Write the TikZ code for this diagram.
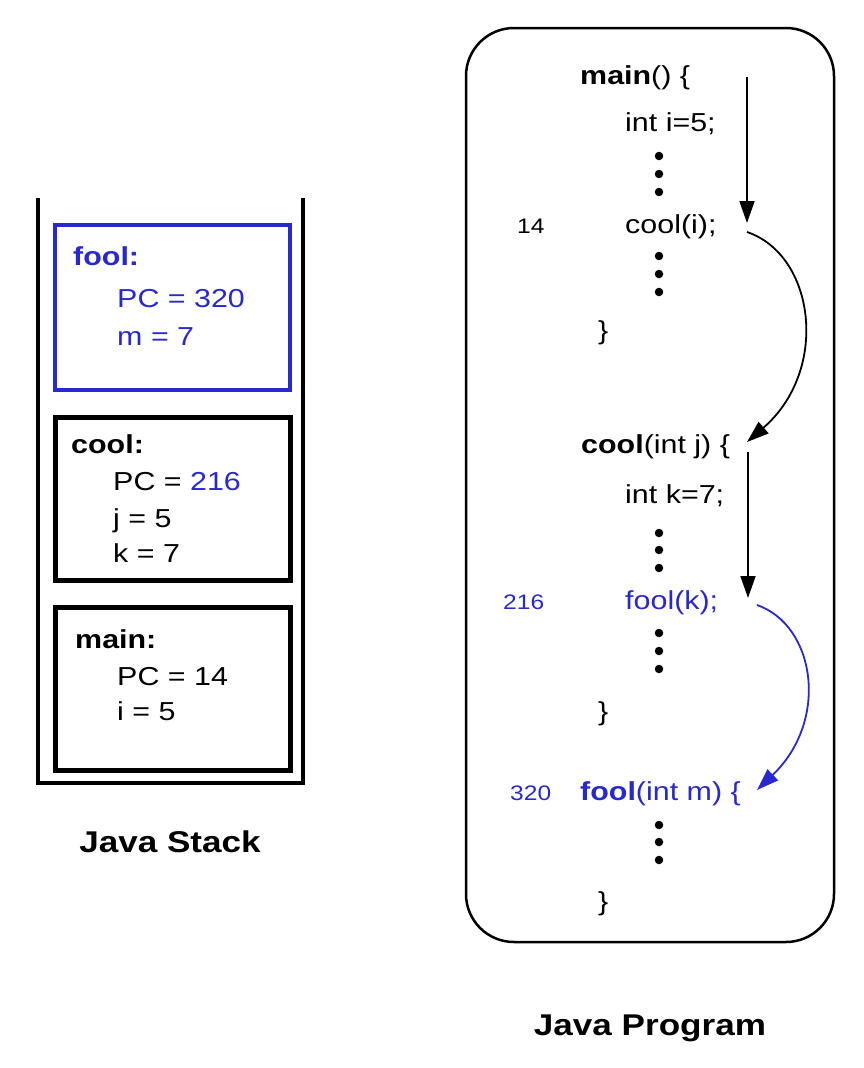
\documentclass[tikz,border=0pt]{standalone}
\usepackage{fontspec}
\setmainfont{Liberation Sans}
\usetikzlibrary{arrows.meta}
\definecolor{mblue}{RGB}{40,40,210}
\begin{document}
\begin{tikzpicture}[x=1pt,y=-1pt,
  txt/.style={anchor=base west,inner sep=0pt,xscale=1.17,font=\fontsize{26}{30}\selectfont},
  num/.style={anchor=base west,inner sep=0pt,xscale=1.17,font=\fontsize{21}{25}\selectfont},
  ttl/.style={anchor=base,inner sep=0pt,xscale=1.17,font=\fontsize{30}{36}\selectfont\bfseries},
  frame/.style={line width=4.5pt},
  flow/.style={line width=1.8pt,-{Triangle[length=22pt,width=15pt]}},
  dot/.style={circle,fill,inner sep=0pt,minimum size=8.5pt}]
\useasboundingbox (0,0) rectangle (864,1068);
% ---------- Java stack ----------
\draw[line width=4.5pt,line join=miter] (38,198) -- (38,783) -- (303,783) -- (303,198);
\node[draw=mblue,line width=4pt,minimum width=235pt,minimum height=165pt,anchor=north west] (foolbox) at (53,223) {};
\node[draw,line width=4.5pt,minimum width=235pt,minimum height=163pt,anchor=north west] (coolbox) at (53,415) {};
\node[draw,line width=4.5pt,minimum width=235pt,minimum height=163pt,anchor=north west] (mainbox) at (53,605) {};
\node[txt,text=mblue,font=\fontsize{26}{30}\selectfont\bfseries] (s1) at (73,265) {fool:};
\node[txt,text=mblue] (s2) at (117,307) {PC = 320};
\node[txt,text=mblue] (s3) at (117,345) {m = 7};
\node[txt,font=\fontsize{26}{30}\selectfont\bfseries] (s4) at (71,453) {cool:};
\node[txt] (s5) at (113,490) {PC = \textcolor{mblue}{216}};
\node[txt] (s6) at (113,527) {j = 5};
\node[txt] (s7) at (113,562) {k = 7};
\node[txt,font=\fontsize{26}{30}\selectfont\bfseries] (s8) at (75,648) {main:};
\node[txt] (s9) at (117,685) {PC = 14};
\node[txt] (s10) at (117,720) {i = 5};
\node[ttl] (stacktitle) at (170,852) {Java Stack};
% ---------- Java program ----------
\draw[line width=2.5pt,rounded corners=48pt] (466,28) rectangle (834,942);
\node[txt] (p1) at (580,84) {\textbf{main}() \{};
\node[txt] (p2) at (625,131) {int i=5;};
\node[dot] (d1) at (659,156) {};
\node[dot] (d2) at (659,174) {};
\node[dot] (d3) at (659,192) {};
\node[num] (n14) at (517,233) {14};
\node[txt] (p3) at (625,233) {cool(i);};
\node[dot] (d4) at (659,256) {};
\node[dot] (d5) at (659,274) {};
\node[dot] (d6) at (659,292) {};
\node[txt] (p4) at (598,339) {\}};
\node[txt] (p5) at (581,453) {\textbf{cool}(int j) \{};
\node[txt] (p6) at (625,503) {int k=7;};
\node[dot] (d7) at (659,533) {};
\node[dot] (d8) at (659,550) {};
\node[dot] (d9) at (659,568) {};
\node[num,text=mblue] (n216) at (503,609) {216};
\node[txt,text=mblue] (p7) at (625,609) {fool(k);};
\node[dot] (d10) at (659,633) {};
\node[dot] (d11) at (659,651) {};
\node[dot] (d12) at (659,669) {};
\node[txt] (p8) at (598,720) {\}};
\node[num,text=mblue] (n320) at (510,800) {320};
\node[txt,text=mblue] (p9) at (580,800) {\textbf{fool}(int m) \{};
\node[dot] (d13) at (659,825) {};
\node[dot] (d14) at (659,842) {};
\node[dot] (d15) at (659,860) {};
\node[txt] (p10) at (598,910) {\}};
\node[ttl] (progtitle) at (650,1035) {Java Program};
% ---------- flow arrows ----------
\coordinate (a1) at (747,77);
\coordinate (a2) at (747,223);
\coordinate (a3) at (747,232);
\coordinate (a4) at (747,442);
\coordinate (a5) at (748,452);
\coordinate (a6) at (748,598);
\coordinate (a7) at (757,605);
\coordinate (a8) at (757,790);
\draw[flow] (a1) -- (a2);
\draw[flow] (a3) .. controls (815,255) and (830,370) .. (a4);
\draw[flow] (a5) -- (a6);
\draw[flow,mblue] (a7) .. controls (815,625) and (830,720) .. (a8);
\end{tikzpicture}
\end{document}
